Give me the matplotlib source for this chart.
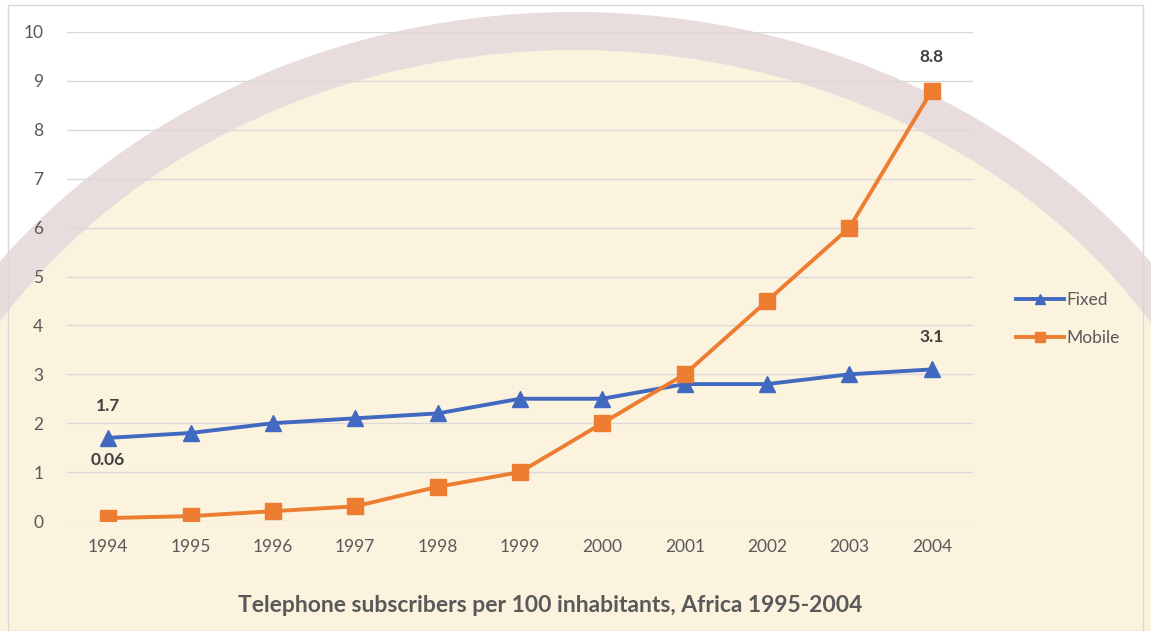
import matplotlib
matplotlib.use("Agg")
import matplotlib.pyplot as plt
from matplotlib.patches import Ellipse, Rectangle

years = ["1994", "1995", "1996", "1997", "1998", "1999", "2000", "2001", "2002", "2003", "2004"]
fixed = [1.7, 1.8, 2.0, 2.1, 2.2, 2.5, 2.5, 2.8, 2.8, 3.0, 3.1]
mobile = [0.06, 0.1, 0.2, 0.3, 0.7, 1.0, 2.0, 3.0, 4.5, 6.0, 8.8]
yticks = [0, 1, 2, 3, 4, 5, 6, 7, 8, 9, 10]
title = "Telephone subscribers per 100 inhabitants, Africa 1995-2004"

W, H = 1151, 631
fig = plt.figure(figsize=(W / 100, H / 100), dpi=100)
fig.patch.set_facecolor("white")

# faint watermark-like background
bg = fig.add_axes([0, 0, 1, 1], zorder=0)
bg.set_xlim(0, W)
bg.set_ylim(H, 0)
bg.axis("off")
bg.add_patch(Ellipse((575, 650), 2 * 725, 2 * 638, facecolor="#e8dcdc", edgecolor="none"))
bg.add_patch(Ellipse((575, 650), 2 * 687, 2 * 600, facecolor="#fcf3df", edgecolor="none"))
bg.add_patch(Rectangle((8, 5), W - 16, H - 5, facecolor="none", edgecolor="#d9d9d9", lw=1))

ax = fig.add_axes([67 / W, (H - 521) / H, 906 / W, 489 / H], zorder=1)
ax.set_facecolor("none")
x = list(range(len(years)))

ax.plot(x, fixed, color="#4169c0", lw=2.8, marker="^", markersize=11,
        markerfacecolor="#4169c0", markeredgecolor="#4169c0", label="Fixed", zorder=3)
ax.plot(x, mobile, color="#ed7d31", lw=2.8, marker="s", markersize=11,
        markerfacecolor="#ed7d31", markeredgecolor="#ed7d31", label="Mobile", zorder=4)

ax.set_xlim(-0.5, len(years) - 0.5)
ax.set_ylim(0, 10)
ax.set_yticks(yticks)
ax.set_xticks(x)
ax.set_xticklabels(years)
ax.grid(axis="y", color="#d9d9d9", lw=1)
ax.set_axisbelow(True)
for s in ax.spines.values():
    s.set_visible(False)
ax.tick_params(length=0, labelsize=12.5, labelcolor="#595959")
ax.tick_params(axis="x", pad=13)
ax.tick_params(axis="y", pad=17)
for lab in ax.get_xticklabels() + ax.get_yticklabels():
    lab.set_fontfamily("Lato")

lab_kw = dict(textcoords="offset points", ha="center", va="center",
              fontsize=12.5, fontweight="bold", color="#404040", family="Lato")
ax.annotate("1.7", (0, fixed[0]), xytext=(0, 23), **lab_kw)
ax.annotate("0.06", (0, mobile[0]), xytext=(0, 42), **lab_kw)
ax.annotate("3.1", (10, fixed[-1]), xytext=(0, 23), **lab_kw)
ax.annotate("8.8", (10, mobile[-1]), xytext=(0, 24), **lab_kw)

leg = fig.legend(loc="center left", bbox_to_anchor=(1000 / W, 1 - 319 / H), frameon=False,
                 handlelength=2.8, handletextpad=0.1, labelspacing=1.3, markerscale=0.6,
                 prop={"family": "Lato", "size": 12.5})
for t in leg.get_texts():
    t.set_color("#595959")
leg.set_zorder(2)

fig.text(550 / W, 1 - 605 / H, title, ha="center", va="center", fontsize=16.5,
         fontweight="bold", color="#595959", family="Lato", zorder=2)

fig.savefig("out.png", dpi=100)
